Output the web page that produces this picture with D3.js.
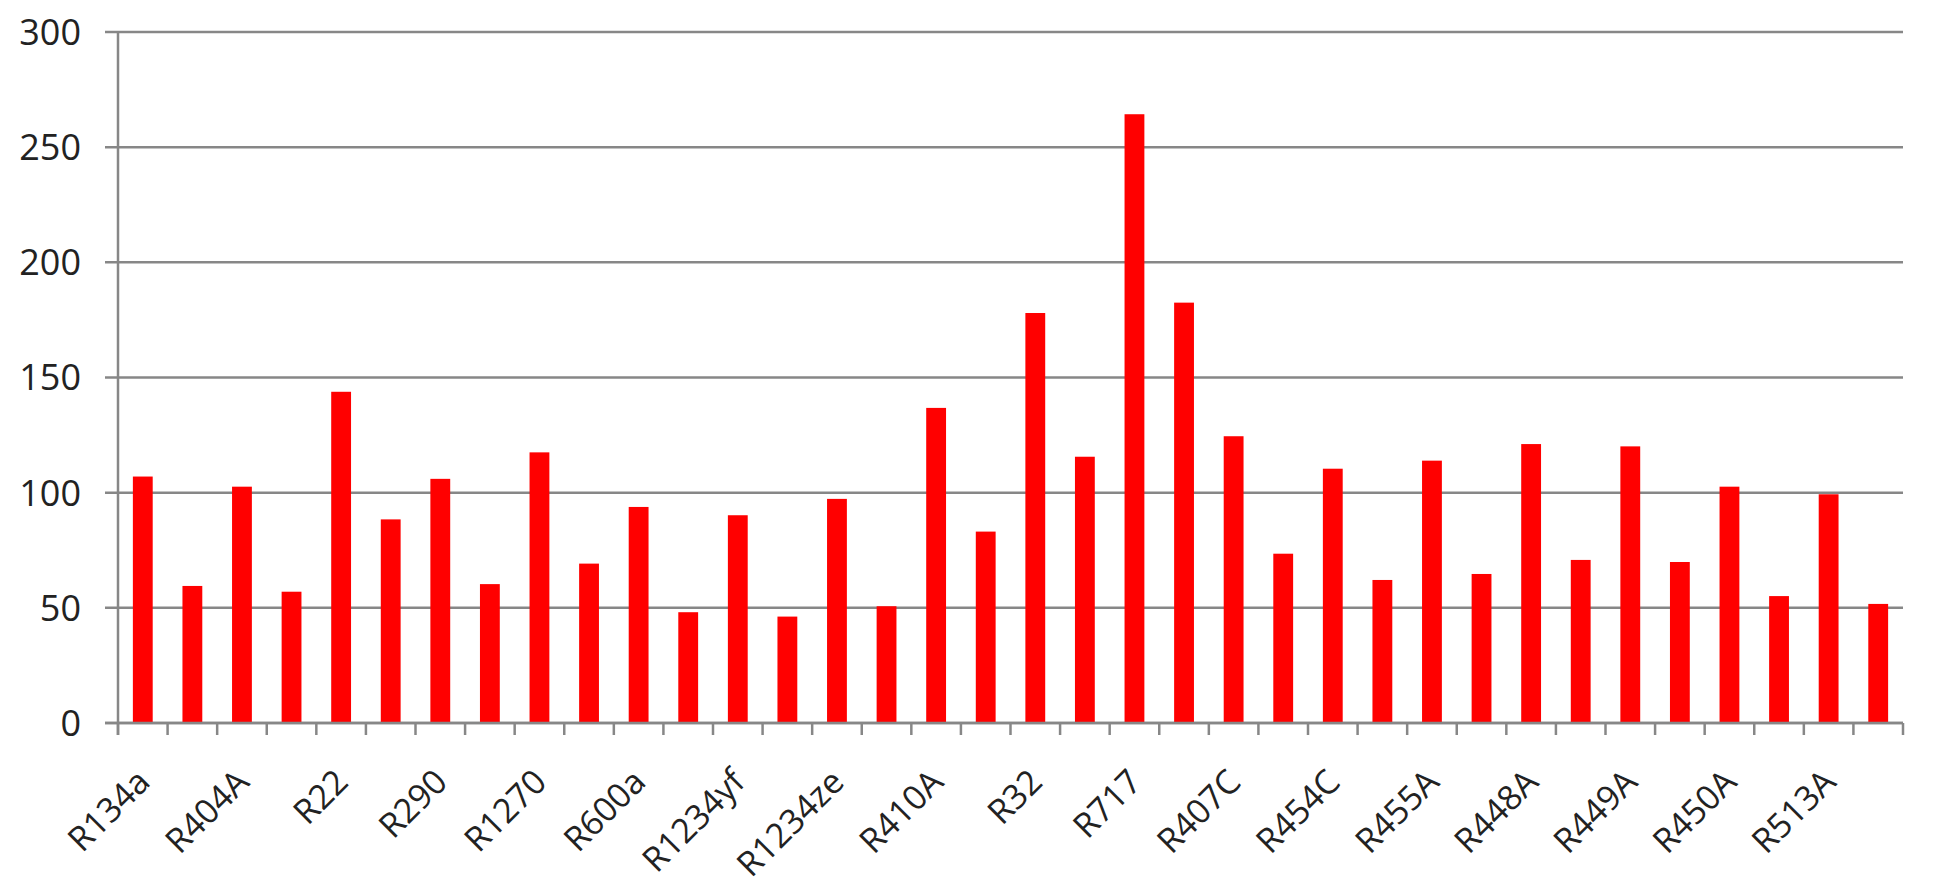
<!DOCTYPE html>
<html>
<head>
<meta charset="utf-8">
<script src="https://cdn.jsdelivr.net/npm/d3@7"></script>
<style>
  html, body { margin: 0; padding: 0; background: #fff; }
  svg { display: block; }
  text { font-family: "Open Sans", "Liberation Sans", sans-serif; fill: #222; }
</style>
</head>
<body>
<svg id="chart" width="1935" height="895"></svg>
<script>
// Category labels (Excel shows every other category label)
const tickLabels = ["R134a", "R404A", "R22", "R290", "R1270", "R600a", "R1234yf", "R1234ze", "R410A",
                    "R32", "R717", "R407C", "R454C", "R455A", "R448A", "R449A", "R450A", "R513A"];
// One value per category slot (36 slots)
const values = [107, 59.5, 102.6, 57, 143.8, 88.4, 106, 60.3, 117.5,
                69.2, 93.8, 48.1, 90.2, 46.2, 97.3, 50.7, 136.8, 83.1,
                178, 115.6, 264.3, 182.5, 124.5, 73.5, 110.4, 62.1, 113.9,
                64.7, 121.1, 70.8, 120.1, 69.9, 102.6, 55.1, 99.3, 51.7];
// Category names: labelled slot followed by an unlabelled slot
const categories = values.map((v, i) => (i % 2 === 0 ? tickLabels[i / 2] : ""));
const yTicks = [0, 50, 100, 150, 200, 250, 300];

const svg = d3.select("#chart");
const plotLeft = 118, plotRight = 1903, plotTop = 32, plotBottom = 723;
const axisColor = "#878787";

const x = d3.scaleBand()
  .domain(d3.range(categories.length))
  .range([plotLeft, plotRight])
  .paddingInner(0.6)
  .paddingOuter(0.3);

const y = d3.scaleLinear().domain([0, 300]).range([plotBottom, plotTop]);

// Gridlines + y ticks
svg.append("g")
  .selectAll("line")
  .data(yTicks)
  .join("line")
  .attr("x1", plotLeft - 13)
  .attr("x2", plotRight)
  .attr("y1", d => y(d))
  .attr("y2", d => y(d))
  .attr("stroke", axisColor)
  .attr("stroke-width", 2.5);

// Y tick labels
svg.append("g")
  .selectAll("text")
  .data(yTicks)
  .join("text")
  .attr("x", 81)
  .attr("y", d => y(d))
  .attr("dy", "0.36em")
  .attr("text-anchor", "end")
  .attr("font-size", 36)
  .text(d => d);

// Bars
svg.append("g")
  .selectAll("rect")
  .data(values)
  .join("rect")
  .attr("x", (d, i) => x(i))
  .attr("width", x.bandwidth())
  .attr("y", d => y(d))
  .attr("height", d => y(0) - y(d))
  .attr("fill", "#ff0000");

// Y axis line
svg.append("line")
  .attr("x1", plotLeft).attr("x2", plotLeft)
  .attr("y1", y(300)).attr("y2", y(0) + 12)
  .attr("stroke", axisColor).attr("stroke-width", 2.5);

// X axis line
svg.append("line")
  .attr("x1", plotLeft - 13).attr("x2", plotRight)
  .attr("y1", y(0)).attr("y2", y(0))
  .attr("stroke", axisColor).attr("stroke-width", 2.5);

// X ticks at category boundaries
const gap = (x.step() - x.bandwidth()) / 2;
const boundaries = d3.range(categories.length + 1).map(i =>
  i < categories.length ? x(i) - gap : x(i - 1) + x.bandwidth() + gap);
svg.append("g")
  .selectAll("line")
  .data(boundaries)
  .join("line")
  .attr("x1", d => d).attr("x2", d => d)
  .attr("y1", y(0)).attr("y2", y(0) + 12)
  .attr("stroke", axisColor).attr("stroke-width", 2.5);

// X tick labels (rotated)
svg.append("g")
  .selectAll("text")
  .data(categories.map((c, i) => ({ c, i })).filter(d => d.c !== ""))
  .join("text")
  .attr("transform", d => `translate(${x(d.i) + x.bandwidth() / 2 + 9},${y(0) + 61}) rotate(-45)`)
  .attr("text-anchor", "end")
  .attr("font-size", 34)
  .text(d => d.c);
</script>
</body>
</html>
